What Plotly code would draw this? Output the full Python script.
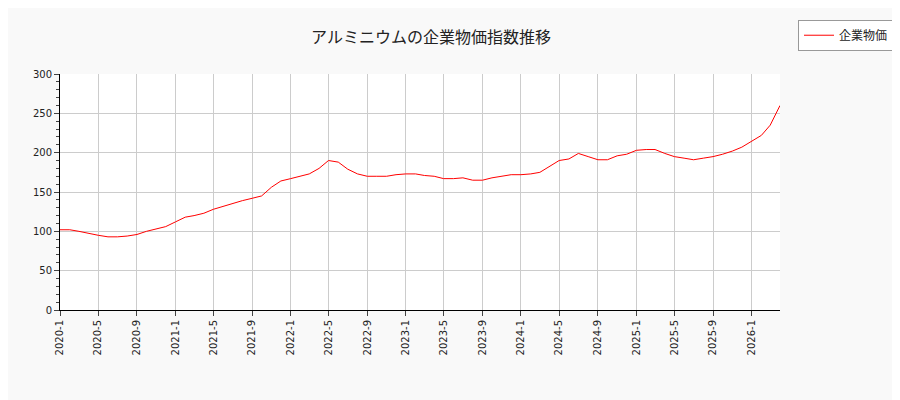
import plotly.graph_objects as go
import pandas as pd

months = pd.date_range("2020-01-01", "2026-04-01", freq="MS")
values = [
    102, 102, 100, 97, 95, 93, 93, 94, 96, 100, 103, 106,
    112, 118, 120, 123, 128, 132, 135, 139, 142, 145, 156, 164,
    167, 170, 173, 180, 190, 188, 179, 173, 170, 170, 170, 172,
    173, 173, 171, 170, 167, 167, 168, 165, 165, 168, 170, 172,
    172, 173, 175, 183, 190, 192, 199, 195, 191, 191, 196, 198,
    203, 204, 204, 199, 195, 193, 191, 193, 195, 198, 202, 207,
    214, 222, 235, 260,
]
tick_dates = pd.date_range("2020-01-01", "2026-01-01", freq="4MS")
tick_text = [f"{d.year}-{d.month}" for d in tick_dates]

fig = go.Figure()
fig.add_trace(go.Scatter(x=months, y=values, mode="lines", name="企業物価",
                         line=dict(color="red", width=1)))

fig.update_layout(
    width=900, height=400,
    title=dict(text="アルミニウムの企業物価指数推移", x=0.47, y=0.94,
               font=dict(family="Noto Sans CJK JP", size=16, color="#222")),
    font=dict(family="DejaVu Sans", size=10, color="#222"),
    paper_bgcolor="#f9f9f9",
    plot_bgcolor="white",
    margin=dict(l=52, r=128, t=52, b=98),
    showlegend=True,
    legend=dict(x=1.025, y=1.23, xanchor="left", yanchor="top",
                bordercolor="#999", borderwidth=1, bgcolor="white",
                font=dict(family="Noto Sans CJK JP", size=12)),
)
fig.update_xaxes(
    range=[months[0], months[-1]], tickvals=tick_dates, ticktext=tick_text,
    tickangle=-90, showgrid=True, gridcolor="#ccc", ticks="outside",
    showline=True, linecolor="black", mirror=False,
)
fig.update_yaxes(
    range=[0, 300], dtick=50, showgrid=True, gridcolor="#ccc",
    ticks="outside", showline=True, linecolor="black",
    minor=dict(dtick=10, ticks="outside", ticklen=3),
)

fig.write_html("out.html")
